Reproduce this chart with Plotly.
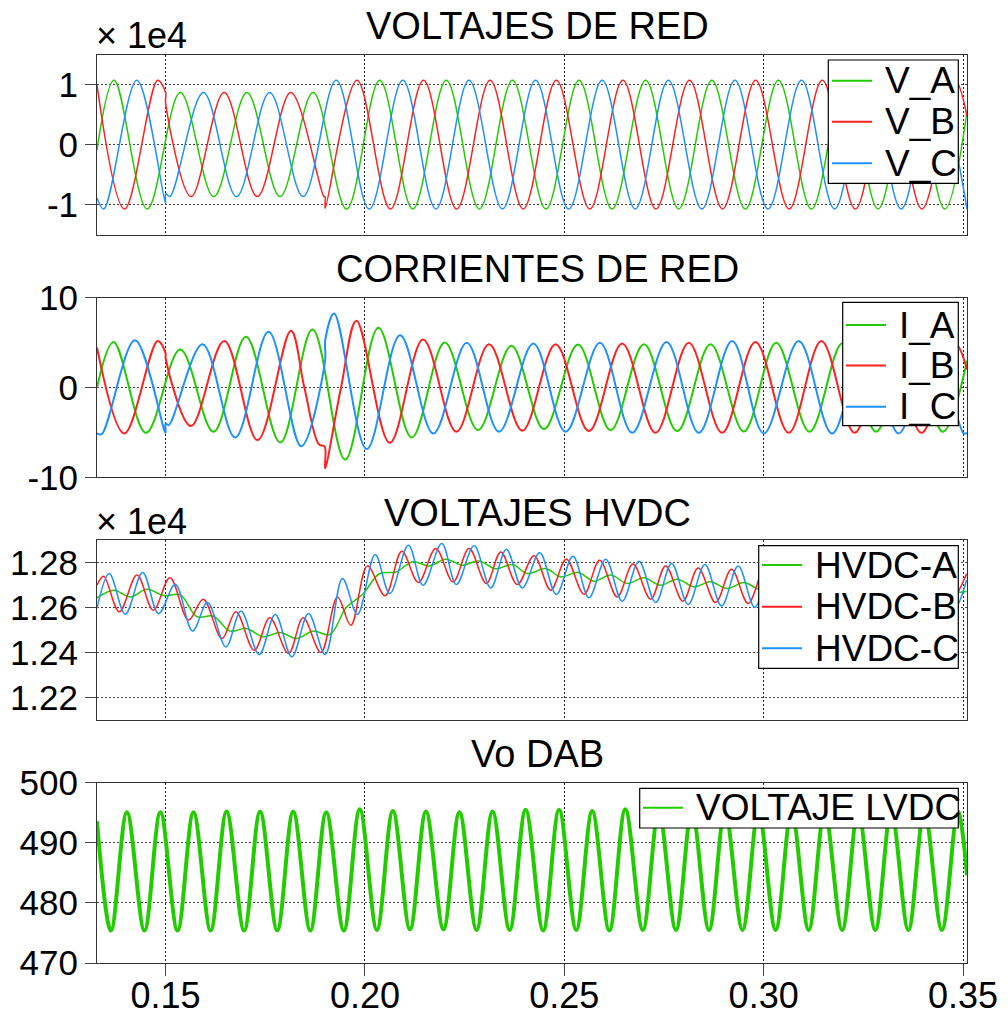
import numpy as np
import plotly.graph_objects as go

# ---- data (times in ms) ----
# grid voltages
va_t = [132.8, 137.1, 145.4, 153.7, 162.1, 170.4, 178.7, 187.0, 195.4, 203.7, 212.0, 220.4, 228.7, 237.0,
        245.4, 253.7, 262.0, 270.4, 278.7, 287.0, 295.4, 303.7, 312.0, 320.4, 328.7, 337.0, 345.4, 351.0]
va_v = [-900, 10700, -10750, 8680, -8680, 8680, -8680, 8680, -10750, 10700, -10750, 10700, -10750, 10700,
        -10750, 10700, -10750, 10700, -10750, 10700, -10750, 10700, -10750, 10700, -10750, 10700, -10750, 5500]

vb_t = [132.8, 139.7, 148.0, 149.98, 150.02, 156.4, 164.7, 173.0, 181.4, 189.7, 189.98, 190.02, 198.0, 206.4,
        214.7, 223.0, 231.4, 239.7, 248.0, 256.4, 264.7, 273.0, 281.4, 289.7, 298.0, 306.4, 314.7, 323.0,
        331.4, 339.7, 348.0, 351.0]
vb_v = [9900, -10750, 10700, 8700, 6850, -8680, 8680, -8680, 8680, -8680, -8660, -10650, 10700, -10750,
        10700, -10750, 10700, -10750, 10700, -10750, 10700, -10750, 10700, -10750, 10700, -10750, 10700, -10750,
        10700, -10750, 10700, 4700]

vc_t = [132.8, 134.5, 142.8, 149.98, 150.02, 151.1, 159.5, 167.8, 176.1, 184.5, 192.8, 201.1, 209.5, 217.8,
        226.1, 234.5, 242.8, 251.1, 259.5, 267.8, 276.1, 284.5, 292.8, 301.1, 309.5, 317.8, 326.1, 334.5,
        342.8, 351.0]
vc_v = [-8900, -10750, 10700, -9850, -8200, -8680, 8680, -8680, 8680, -8680, 10700, -10750, 10700, -10750,
        10700, -10750, 10700, -10750, 10700, -10750, 10700, -10750, 10700, -10750, 10700, -10750, 10700, -10750,
        10700, -10750]

# grid currents
ia_t = [132.8, 136.97, 145.09, 153.68, 162.03, 170.15, 178.75, 186.84, 195.04, 203.38, 211.75, 220.03, 228.37,
        236.72, 244.91, 253.43, 261.62, 269.97, 278.32, 286.68, 295.04, 303.14, 311.50, 319.85, 328.20, 336.56,
        344.91, 351.0]
ia_v = [0.0, 5.08, -5.05, 4.23, -4.93, 5.64, -6.12, 6.47, -8.03, 6.64, -5.57, 5.0, -4.75,
        4.64, -4.64, 4.79, -4.75, 4.82, -4.86, 4.82, -4.9, 4.97, -4.93, 4.95, -4.93, 4.95,
        -4.93, 3.0]

ib_t = [132.8, 139.65, 148.0, 149.98, 150.02, 156.36, 164.71, 173.06, 181.43, 184.8, 188.4, 189.9, 190.0,
        194.0, 197.87, 206.24, 214.59, 222.93, 231.13, 239.47, 247.82, 256.17, 264.52, 272.88, 281.23,
        289.58, 297.94, 306.29, 314.48, 322.83, 331.19, 339.54, 347.98, 351.0]
ib_v = [4.45, -5.12, 5.19, 3.86, 3.23, -4.30, 5.19, -5.86, 6.31, 0.0, -6.3, -6.6, -9.0,
        0.0, 7.43, -6.16, 5.34, -4.93, 4.82, -4.82, 4.82, -4.86, 4.9, -5.05, 4.97,
        -5.05, 5.08, -5.05, 5.19, -5.05, 5.1, -5.05, 4.9, 2.0]

ic_t = [132.8, 133.96, 142.33, 149.98, 150.02, 150.8, 159.28, 167.47, 175.82, 184.0, 189.98, 190.05, 192.28,
        200.47, 208.82, 217.17, 225.54, 233.63, 242.24, 250.34, 258.94, 267.04, 275.65, 283.75, 292.1,
        300.04, 308.81, 317.17, 325.52, 333.87, 342.23, 350.16, 351.0]
ic_v = [-5.1, -5.2, 5.27, -5.05, -4.0, -4.19, 4.82, -5.57, 6.2, -6.53, 2.9, 5.3, 8.24,
        -6.86, 5.83, -5.12, 4.97, -4.93, 4.9, -4.93, 4.97, -5.05, 5.08, -5.05, 5.19,
        -5.12, 5.19, -5.12, 5.1, -5.12, 5.1, -5.12, -5.05]

# HVDC voltages
ha_t = [132.8, 137.0, 141.2, 145.3, 149.5, 153.7, 157.8, 162.0, 166.2, 170.3, 174.5, 178.7, 182.8, 187.0,
        191.2, 195.3, 199.5, 203.6, 207.8, 212.0, 216.1, 220.3, 224.4, 228.6, 232.8, 236.97, 240.73, 245.33,
        249.10, 253.51, 257.44, 261.63, 265.79, 269.97, 274.16, 278.32, 282.51, 286.69, 290.85, 295.04, 299.2,
        303.4, 307.5, 311.7, 315.9, 320.0, 324.2, 328.4, 332.5, 336.7, 340.9, 345.0, 349.2, 350.9]
ha_v = [12643, 12677, 12647, 12681, 12653, 12656, 12560, 12561, 12495, 12507, 12470, 12489, 12462, 12495,
        12480, 12600, 12660, 12750, 12758, 12803, 12785, 12815, 12788, 12807, 12772, 12791, 12751, 12773,
        12736, 12756, 12717, 12744, 12707, 12732, 12699, 12726, 12692, 12714, 12684, 12711, 12680,
        12705, 12677, 12702, 12674, 12700, 12672, 12698, 12671, 12697, 12670, 12696, 12668, 12672]

hb_t = [132.8, 134.46, 138.40, 142.83, 146.92, 151.10, 155.76, 159.45, 164.13, 167.64, 172.23, 176.16, 180.83,
        184.51, 188.95, 193.11, 196.47, 200.63, 205.06, 209.25, 213.41, 217.77, 222.11, 226.12, 230.45, 234.06,
        238.22, 242.41, 246.59, 250.50, 254.94, 258.87, 263.28, 267.22, 271.65, 275.41, 279.75, 283.58, 287.94,
        291.95, 296.12, 300.2, 304.4, 308.5, 312.7, 316.8, 321.0, 325.1, 329.3, 333.4, 337.6, 341.7, 345.9, 350.9]
hb_v = [12699, 12739, 12581, 12744, 12588, 12732, 12544, 12637, 12462, 12581, 12410, 12554, 12396,
        12554, 12400, 12647, 12521, 12785, 12652, 12850, 12711, 12862, 12714, 12862, 12707, 12847,
        12702, 12830, 12677, 12815, 12659, 12810, 12647, 12793, 12637, 12785, 12628, 12776, 12622,
        12770, 12618, 12767, 12615, 12764, 12612, 12762, 12610, 12760, 12608, 12758, 12607, 12757, 12606, 12750]

hc_t = [132.8, 135.89, 139.90, 144.24, 148.25, 152.43, 156.77, 160.53, 165.14, 168.90, 173.48, 177.49, 181.68,
        185.84, 190.03, 194.36, 198.12, 202.56, 206.24, 210.90, 214.59, 219.27, 222.93, 227.37, 231.55, 235.47,
        239.47, 243.83, 248.00, 252.18, 256.19, 260.38, 264.54, 268.72, 272.91, 276.92, 281.08, 285.26, 289.45,
        293.61, 297.79, 301.9, 306.1, 310.2, 314.4, 318.5, 322.7, 326.8, 331.0, 335.1, 339.3, 343.4, 347.6, 350.9]
hc_v = [12596, 12751, 12570, 12756, 12573, 12702, 12496, 12622, 12425, 12584, 12391, 12569, 12381,
        12573, 12391, 12729, 12569, 12836, 12662, 12877, 12699, 12884, 12702, 12874, 12687, 12859,
        12687, 12843, 12658, 12828, 12643, 12815, 12628, 12806, 12622, 12796, 12613, 12791, 12607,
        12785, 12600, 12782, 12597, 12779, 12594, 12777, 12592, 12775, 12590, 12773, 12589, 12772, 12588, 12722]

# DAB output voltage
vo_t = [132.8, 136.3, 140.3, 144.7, 148.7, 153.0, 157.0, 161.3, 165.3, 169.7, 173.7, 178.0, 182.0, 186.3,
        190.3, 194.7, 198.7, 203.0, 207.0, 211.3, 215.3, 219.7, 223.7, 228.0, 232.0, 236.3, 240.3, 244.7,
        248.7, 253.0, 257.0, 261.3, 265.3, 269.7, 273.7, 278.0, 282.0, 286.3, 290.3, 294.7, 298.7, 303.0,
        307.0, 311.3, 315.3, 319.7, 323.7, 328.0, 332.0, 336.3, 340.3, 344.7, 348.7, 351.0]
vo_v = [493.6, 475.4, 495.1, 475.4, 495.1, 475.4, 495.1, 475.4, 495.2, 475.4, 495.2, 475.4, 495.2, 475.4,
        495.1, 475.4, 495.6, 475.5, 495.3, 475.6, 495.2, 475.6, 495.1, 475.5, 495.2, 475.5, 495.5, 475.4,
        495.5, 475.5, 495.3, 475.4, 495.6, 475.5, 495.2, 475.5, 495.3, 475.5, 495.2, 475.5, 495.2, 475.5,
        495.2, 475.5, 495.2, 475.5, 495.2, 475.5, 495.2, 475.5, 495.2, 475.5, 495.2, 484.6]

x_ticks = [0.15, 0.20, 0.25, 0.30, 0.35]
x_ticktext = ['0.15', '0.20', '0.25', '0.30', '0.35']

GREEN = '#22cc00'
RED = '#ff2020'
BLUE = '#1e90ff'
FONT = 'Liberation Sans, Arial, sans-serif'

# the page body adds an 8px margin, so the figure is built 8px smaller/shifted
OFF = 8
W, H = 1000, 1004
L, R, T, B = 89, 41, 46, 49
PW, PH = W - L - R, H - T - B


def px(x):
    # screen pixel (reference image) -> paper x
    return (x - OFF - L) / PW


def py(y):
    # screen pixel (reference image) -> paper y
    return (H - B - (y - OFF)) / PH


fig = go.Figure()


def add(t_ms, vals, name, color, row, width):
    fig.add_trace(go.Scatter(
        x=np.array(t_ms) / 1000.0, y=vals, name=name, mode='lines',
        line=dict(color=color, width=width, shape='spline'),
        xaxis='x' if row == 1 else 'x%d' % row,
        yaxis='y' if row == 1 else 'y%d' % row,
        showlegend=False,
    ))


series = [
    (va_t, va_v, 'V_A', GREEN, 1, 1.5),
    (vb_t, vb_v, 'V_B', RED, 1, 1.5),
    (vc_t, vc_v, 'V_C', BLUE, 1, 1.5),
    (ia_t, ia_v, 'I_A', GREEN, 2, 2),
    (ib_t, ib_v, 'I_B', RED, 2, 2),
    (ic_t, ic_v, 'I_C', BLUE, 2, 2),
    (ha_t, ha_v, 'HVDC-A', GREEN, 3, 1.5),
    (hb_t, hb_v, 'HVDC-B', RED, 3, 1.5),
    (hc_t, hc_v, 'HVDC-C', BLUE, 3, 1.5),
    (vo_t, vo_v, 'VOLTAJE LVDC', GREEN, 4, 4),
]
for s in series:
    add(*s)

# panel y-extents in screen pixels (top, bottom)
panels = {1: (54.5, 234.5), 2: (297.7, 477.3), 3: (540, 720), 4: (782.7, 963)}
y_setup = {
    1: dict(range=[-15000, 15000], tickvals=[-10000, 0, 10000], ticktext=['-1', '0', '1']),
    2: dict(range=[-10, 10], tickvals=[-10, 0, 10], ticktext=['-10', '0', '10']),
    3: dict(range=[12100, 12900], tickvals=[12200, 12400, 12600, 12800],
            ticktext=['1.22', '1.24', '1.26', '1.28']),
    4: dict(range=[470, 500], tickvals=[470, 480, 490, 500], ticktext=['470', '480', '490', '500']),
}

layout = dict(
    width=W, height=H,
    margin=dict(l=L, r=R, t=T, b=B),
    paper_bgcolor='white', plot_bgcolor='white',
    font=dict(family=FONT, color='black'),
    showlegend=False,
)

for r in range(1, 5):
    xs = 'xaxis' if r == 1 else 'xaxis%d' % r
    ys = 'yaxis' if r == 1 else 'yaxis%d' % r
    top, bot = panels[r]
    layout[xs] = dict(
        domain=[0, 1], anchor='y' if r == 1 else 'y%d' % r,
        matches=None if r == 1 else 'x', automargin=False,
        range=[0.1328, 0.351], tickvals=x_ticks, ticktext=x_ticktext,
        showticklabels=(r == 4), ticks='outside' if r == 4 else '', ticklen=12, tickcolor='#444',
        ticklabelstandoff=-11,
        tickfont=dict(size=36, family=FONT, color='black'),
        showgrid=True, gridcolor='#222', griddash='2px,2px', gridwidth=1,
        zeroline=False, showline=True, mirror=True, linecolor='#333', linewidth=1,
    )
    layout[ys] = dict(
        domain=[max(py(bot), 0), min(py(top), 1)], anchor='x' if r == 1 else 'x%d' % r,
        automargin=False,
        ticks='outside', ticklen=11, tickcolor='#444',
        tickfont=dict(size=35, family=FONT, color='black'),
        showgrid=True, gridcolor='#444', griddash='2px,2px', gridwidth=1,
        zeroline=False, showline=True, mirror=True, linecolor='#333', linewidth=1,
        **y_setup[r],
    )

# legend boxes drawn by hand (PSIM style): box, sample line, text start, row centres
legend_specs = [
    dict(box=(828.3, 958.3, 60, 183.3), line=(832, 872), text_x=883, rows=[80.7, 121.7, 163.3], idx=[0, 1, 2]),
    dict(box=(842.7, 958.3, 302.3, 425.7), line=(846, 886), text_x=897, rows=[325, 365.5, 406.7], idx=[3, 4, 5]),
    dict(box=(758.7, 958.3, 545.7, 668.3), line=(762, 802), text_x=813, rows=[565, 606.7, 648.3], idx=[6, 7, 8]),
    dict(box=(639.7, 958.3, 788.3, 828), line=(643, 683), text_x=694, rows=[807.7], idx=[9]),
]

shapes = []
annotations = []
for spec in legend_specs:
    x0, x1, y0, y1 = spec['box']
    shapes.append(dict(type='rect', xref='paper', yref='paper', x0=px(x0), x1=px(x1), y0=py(y1), y1=py(y0),
                       fillcolor='white', line=dict(color='black', width=1.2), layer='above'))
    for ry, i in zip(spec['rows'], spec['idx']):
        name, color = series[i][2], series[i][3]
        shapes.append(dict(type='line', xref='paper', yref='paper', x0=px(spec['line'][0]), x1=px(spec['line'][1]),
                           y0=py(ry), y1=py(ry), line=dict(color=color, width=2), layer='above'))
        annotations.append(dict(text=name, x=px(spec['text_x']), y=py(ry), xref='paper', yref='paper',
                                showarrow=False, xanchor='left', yanchor='middle',
                                font=dict(size=37, family=FONT, color='black')))

title_font = dict(size=38, family=FONT, color='black')
titles = [('VOLTAJES DE RED', 26), ('CORRIENTES DE RED', 269), ('VOLTAJES HVDC', 512.5), ('Vo DAB', 754)]
for text, ty in titles:
    annotations.append(dict(text=text, x=px(537), y=py(ty), xref='paper', yref='paper', showarrow=False,
                            xanchor='center', yanchor='middle', font=title_font))
for ty in (36, 521):
    annotations.append(dict(text='\u00d7 1e4', x=px(94), y=py(ty), xref='paper', yref='paper', showarrow=False,
                            xanchor='left', yanchor='middle', font=dict(size=36, family=FONT, color='black')))

layout['shapes'] = shapes
layout['annotations'] = annotations

fig.update_layout(layout)
fig.write_html('out.html')
